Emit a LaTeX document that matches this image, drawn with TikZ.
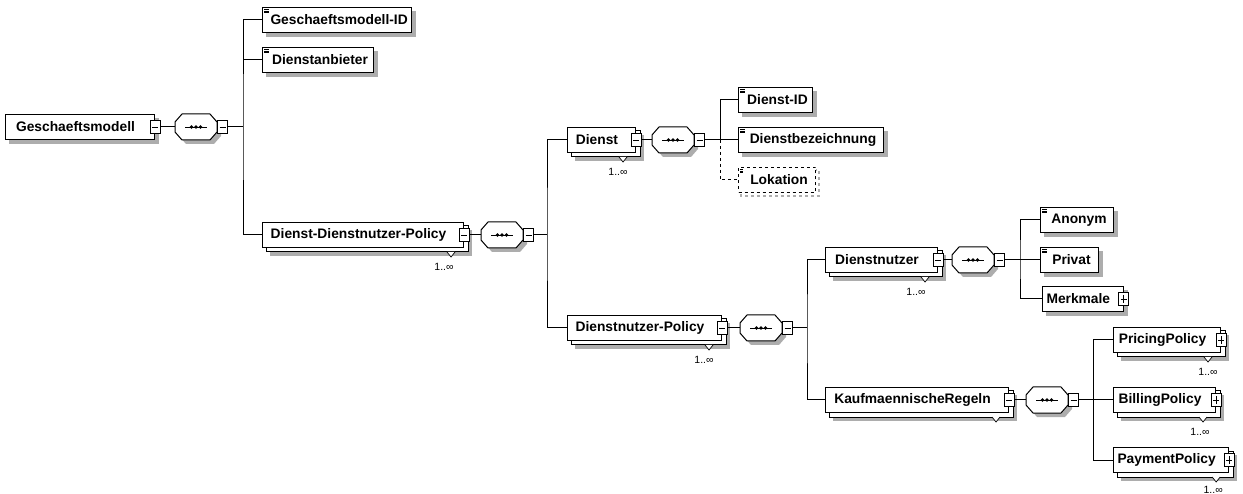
\documentclass[tikz,border=0pt]{standalone}
\usepackage{fontspec}
\setmainfont{Liberation Sans}

\definecolor{shadecol}{gray}{0.68}

\pgfdeclarelayer{shadows}
\pgfdeclarelayer{copies}
\pgfsetlayers{shadows,copies,main}

\tikzset{
  wire/.style={draw=black, line width=1pt},
  elem/.style={draw=black, fill=white, line width=1pt, minimum height=25pt,
    inner xsep=4pt, inner ysep=0pt, anchor=west,
    font=\fontsize{13.8}{16}\selectfont\bfseries},
  withbtn/.style={execute at end node={\hspace{9pt}}},
  leaf/.style={elem, execute at begin node={\hspace{4pt}},
    path picture={
      \foreach \d in {2,3.6,5.2}
        \draw[line width=0.6pt] ([shift={(1.5pt,-\d pt)}]path picture bounding box.north west) -- ++(4.5pt,0pt);}},
  optleaf/.style={leaf, dashed, line width=1.1pt},
  btn/.style={draw=black, fill=white, line width=0.7pt, minimum width=10pt,
    minimum height=13pt, inner sep=0pt},
  minusbtn/.style={btn, path picture={
    \draw[line width=0.7pt] ([xshift=2pt]path picture bounding box.west)
      -- ([xshift=-2pt]path picture bounding box.east);}},
  plusbtn/.style={btn, path picture={
    \draw[line width=0.7pt] ([xshift=2pt]path picture bounding box.west)
      -- ([xshift=-2pt]path picture bounding box.east);
    \draw[line width=0.7pt] ([yshift=-2.5pt]path picture bounding box.north)
      -- ([yshift=2.5pt]path picture bounding box.south);}},
  seqbase/.style={minimum width=42pt, minimum height=26pt, inner sep=0pt},
  mult/.style={font=\fontsize{10.5}{12}\selectfont, inner sep=0pt},
}

% grey drop shadow behind a node
\newcommand\dropshade[2]{%
  \begin{pgfonlayer}{shadows}
    \fill[shadecol] ([shift={(#2pt,-#2pt)}]#1.north west)
      rectangle ([shift={(#2pt,-#2pt)}]#1.south east);
  \end{pgfonlayer}}

% element that may occur several times: back copy, shadow and marker
\newcommand\stacked[1]{%
  \begin{pgfonlayer}{copies}
    \draw[fill=white, line width=1pt] ([shift={(4pt,-4pt)}]#1.north west)
      rectangle ([shift={(4pt,-4pt)}]#1.south east);
  \end{pgfonlayer}
  \dropshade{#1}{8}%
  \draw[fill=white, line width=0.7pt] ([shift={(-17pt,-4pt)}]#1.south east)
    -- ++(4pt,-5pt) -- ++(4pt,5pt);}

% sequence compositor: octagon with a dotted bar, and its collapse button
\newcommand\seqnode[2]{%
  \node[seqbase] (#1) at (#2) {};
  \begin{scope}[shift={(#1.center)}]
    \fill[shadecol] (-17,-1) -- (-10,-9) -- (18,-9) -- (25,-1) -- (25,9)
      -- (18,17) -- (-10,17) -- (-17,9) -- cycle;
    \draw[fill=white, line width=1pt] (-21,-5) -- (-14,-13) -- (14,-13) -- (21,-5)
      -- (21,5) -- (14,13) -- (-14,13) -- (-21,5) -- cycle;
    \draw[line width=0.9pt] (-11,0) -- (11,0);
    \foreach \p in {-4.5,0,4.5} \fill (\p,0) circle (1.9);
  \end{scope}
  \node[minusbtn, anchor=west] (#1b) at (#1.east) {};}

\begin{document}
\begin{tikzpicture}[x=1pt, y=-1pt]
\useasboundingbox (0,0) rectangle (1243,494);

% ---- root ----
\node[elem, withbtn, minimum width=149pt] (g) at (5,127) {Geschaeftsmodell};
\dropshade{g}{4}
\node[minusbtn] (gb) at (g.east) {};
\seqnode{s1}{196,127}

\node[leaf, minimum width=146pt] (gid) at (262,20) {Geschaeftsmodell-ID};
\dropshade{gid}{4}
\node[leaf, minimum width=111pt] (dan) at (262,60) {Dienstanbieter};
\dropshade{dan}{4}

\node[elem, withbtn, minimum width=201pt] (ddp) at (262,235) {Dienst-Dienstnutzer-Policy};
\stacked{ddp}
\node[minusbtn] (ddpb) at (ddp.east) {};
\node[mult] (ddpm) at ([shift={(-20pt,-19pt)}]ddp.south east) {1..∞};
\seqnode{s2}{502,235}

% ---- Dienst ----
\node[elem, withbtn, minimum width=68pt] (d) at (567,140) {Dienst};
\stacked{d}
\node[minusbtn] (db) at (d.east) {};
\node[mult] (dm) at ([shift={(-18pt,-19pt)}]d.south east) {1..∞};
\seqnode{s3}{673,140}

\node[leaf, minimum width=74pt] (did) at (738,100) {Dienst-ID};
\dropshade{did}{4}
\node[leaf, minimum width=145pt] (dbz) at (738,140) {Dienstbezeichnung};
\dropshade{dbz}{4}
\node[optleaf, minimum width=77pt] (lok) at (738,180) {Lokation};
\begin{pgfonlayer}{shadows}
  \draw[shadecol, dashed, line width=1.8pt] ([shift={(3pt,-3pt)}]lok.north west)
    rectangle ([shift={(3pt,-3pt)}]lok.south east);
\end{pgfonlayer}

% ---- Dienstnutzer-Policy ----
\node[elem, withbtn, minimum width=154pt] (dnp) at (567,328) {Dienstnutzer-Policy};
\stacked{dnp}
\node[minusbtn] (dnpb) at (dnp.east) {};
\node[mult] (dnpm) at ([shift={(-18pt,-19pt)}]dnp.south east) {1..∞};
\seqnode{s4}{761,328}

\node[elem, withbtn, minimum width=112pt] (dn) at (825,260) {Dienstnutzer};
\stacked{dn}
\node[minusbtn] (dnb) at (dn.east) {};
\node[mult] (dnm) at ([shift={(-22pt,-19pt)}]dn.south east) {1..∞};
\seqnode{s5}{973,260}

\node[leaf, minimum width=73pt] (an) at (1040,220) {Anonym};
\dropshade{an}{4}
\node[leaf, minimum width=58pt] (pr) at (1040,260) {Privat};
\dropshade{pr}{4}
\node[elem, withbtn, minimum width=80pt] (mm) at (1042,299) {Merkmale};
\dropshade{mm}{4}
\node[plusbtn] (mmb) at (mm.east) {};

\node[elem, withbtn, minimum width=183pt] (kr) at (825,400) {KaufmaennischeRegeln};
\stacked{kr}
\node[minusbtn] (krb) at (kr.east) {};
\seqnode{s6}{1047,400}

\node[elem, withbtn, minimum width=107pt] (pp) at (1113,340) {PricingPolicy};
\stacked{pp}
\node[plusbtn] (ppb) at (pp.east) {};
\node[mult] (ppm) at ([shift={(-13pt,-19pt)}]pp.south east) {1..∞};

\node[elem, withbtn, minimum width=102pt] (bp) at (1113,400) {BillingPolicy};
\stacked{bp}
\node[plusbtn] (bpb) at (bp.east) {};
\node[mult] (bpm) at ([shift={(-16pt,-19pt)}]bp.south east) {1..∞};

\node[elem, withbtn, minimum width=115pt] (yp) at (1113,460) {PaymentPolicy};
\stacked{yp}
\node[plusbtn] (ypb) at (yp.east) {};
\node[mult] (ypm) at ([shift={(-16pt,-17pt)}]yp.south east) {1..∞};

% ---- connectors ----
\coordinate (j1) at (243,127);
\coordinate (j2) at (547,235);
\coordinate (j3) at (720,140);
\coordinate (j4) at (807,328);
\coordinate (j5) at (1020,260);
\coordinate (j6) at (1093,400);

\draw[wire] (gb.east) -- (s1.west);
\draw[wire] (s1b.east) -- (j1);
\draw[wire] (gid.west) -| (j1) |- (ddp.west);
\draw[wire] (dan.west) -- (dan.west -| j1);

\draw[wire] (ddpb.east) -- (s2.west);
\draw[wire] (s2b.east) -- (j2);
\draw[wire] (d.west) -| (j2) |- (dnp.west);

\draw[wire] (db.east) -- (s3.west);
\draw[wire] (s3b.east) -- (j3);
\draw[wire] (did.west) -| (j3) -- (dbz.west);
\draw[wire, dashed] (j3) |- (lok.west);

\draw[wire] (dnpb.east) -- (s4.west);
\draw[wire] (s4b.east) -- (j4);
\draw[wire] (dn.west) -| (j4) |- (kr.west);

\draw[wire] (dnb.east) -- (s5.west);
\draw[wire] (s5b.east) -- (j5);
\draw[wire] (an.west) -| (j5) |- (mm.west);
\draw[wire] (pr.west) -- (j5);

\draw[wire] (krb.east) -- (s6.west);
\draw[wire] (s6b.east) -- (j6);
\draw[wire] (pp.west) -| (j6) |- (yp.west);
\draw[wire] (bp.west) -- (j6);
\end{tikzpicture}
\end{document}
